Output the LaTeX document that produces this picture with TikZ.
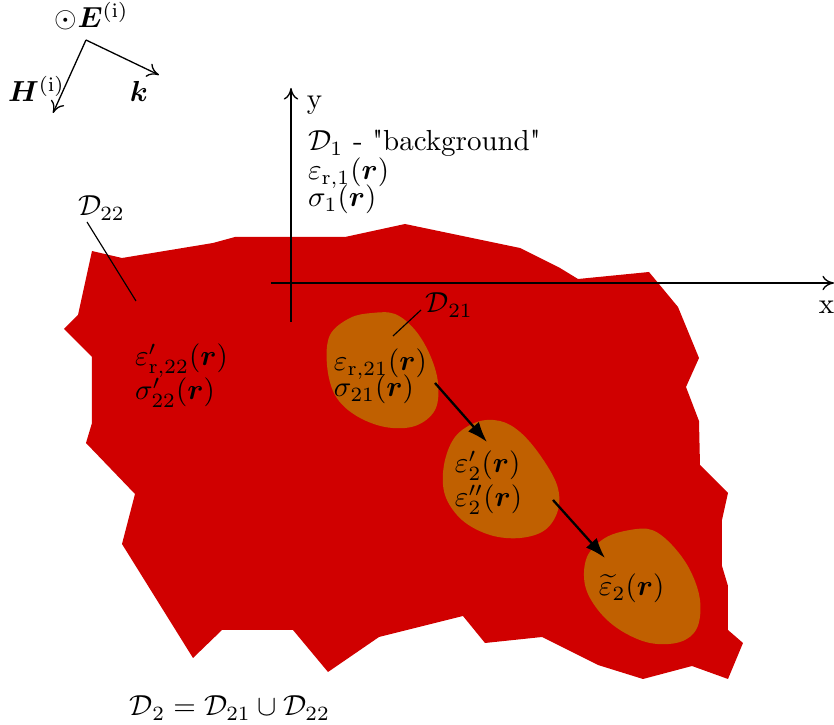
\documentclass[tikz,border=0pt]{standalone}
\usepackage{amsmath,bm}
\usetikzlibrary{arrows.meta}
\definecolor{regred}{RGB}{208,0,0}
\definecolor{incor}{RGB}{192,96,0}
\tikzset{
  lbl/.style={anchor=base west,inner sep=0pt,outer sep=0pt},
  axisline/.style={draw=black,line width=0.45pt,-{To[length=4pt,width=5pt]}},
  leader/.style={draw=black,line width=0.4pt},
  flow/.style={draw=black,line width=0.8pt,-{Latex[length=7pt,width=5pt]}},
  fieldvec/.style={draw=black,line width=0.45pt,-{To[length=4pt,width=5pt]}},
}
\begin{document}
\begin{tikzpicture}[x=0.345pt,y=-0.345pt]
\useasboundingbox (0,0) rectangle (834,725);
% region D2
\fill[regred] (92,251)--(122,258)--(213,243)--(235,237)--(345,237)--(405,224)--(520,248)--(560,268)--(578,279)--(649,272)--(678,307)--(699,358)--(686,387)--(699,421)--(700,465)--(728,493)--(722,520)--(722,566)--(728,586)--(728,630)--(743,643)--(728,679)--(692,666)--(643,679)--(598,665)--(542,637)--(485,643)--(463,616)--(379,637)--(328,672)--(293,630)--(222,630)--(193,658)--(122,544)--(135,494)--(86,443)--(92,423)--(92,357)--(64,329)--(78,315)--cycle;
% inclusions
\fill[incor] plot[smooth cycle,tension=0.6] coordinates {(372,313) (395,314) (415,330) (430,355) (438,383) (435,410) (415,426) (385,427) (355,415) (335,395) (327,365) (330,335) (350,318)};
\fill[incor] plot[smooth cycle,tension=0.6] coordinates {(477,422) (500,421) (520,432) (540,455) (557,485) (558,510) (545,530) (520,538) (490,535) (462,520) (445,495) (444,465) (455,437)};
\fill[incor] plot[smooth cycle,tension=0.6] coordinates {(630,530) (652,530) (672,545) (690,570) (700,600) (697,628) (680,642) (650,643) (620,630) (598,610) (585,585) (587,557) (605,538)};
% axes
\coordinate (yb) at (291,322); \coordinate (yt) at (291,88);
\coordinate (xb) at (271,283); \coordinate (xt) at (834,283);
\draw[axisline] (yb) -- (yt);
\draw[axisline] (xb) -- (xt);
\node[lbl] (ylab) at (307,109) {y};
\node[lbl] (xlab) at (819,314) {x};
% background texts
\node[lbl] (d1) at (308,151) {$\mathcal{D}_1$ - \textquotedbl background\textquotedbl};
\node[lbl] (e1) at (308,180) {$\varepsilon_{\mathrm{r},1}(\bm{r})$};
\node[lbl] (s1) at (308,207) {$\sigma_1(\bm{r})$};
% incident field
\coordinate (o) at (86,40);
\coordinate (ht) at (53,113);
\coordinate (kt) at (159,75);
\draw[fieldvec] (o) -- (ht);
\draw[fieldvec] (o) -- (kt);
\node[lbl] (E) at (55,28) {$\odot\bm{E}^{(\mathrm{i})}$};
\node[lbl] (H) at (8,102) {$\bm{H}^{(\mathrm{i})}$};
\node[lbl] (k) at (130,102) {$\bm{k}$};
% D22
\node[lbl] (d22) at (78,216) {$\mathcal{D}_{22}$};
\coordinate (l22a) at (87,222); \coordinate (l22b) at (136,301);
\draw[leader] (l22a) -- (l22b);
\node[lbl] (e22) at (135,366) {$\varepsilon'_{\mathrm{r},22}(\bm{r})$};
\node[lbl] (s22) at (135,400) {$\sigma'_{22}(\bm{r})$};
% D21
\node[lbl] (d21) at (426,313) {$\mathcal{D}_{21}$};
\coordinate (l21a) at (421,310); \coordinate (l21b) at (393,336);
\draw[leader] (l21a) -- (l21b);
\node[lbl] (e21) at (334,371) {$\varepsilon_{\mathrm{r},21}(\bm{r})$};
\node[lbl] (s21) at (334,397) {$\sigma_{21}(\bm{r})$};
% second state
\node[lbl] (e2a) at (455,473) {$\varepsilon'_2(\bm{r})$};
\node[lbl] (e2b) at (455,507) {$\varepsilon''_2(\bm{r})$};
\node[lbl] (e2t) at (599,596) {$\widetilde{\varepsilon}_2(\bm{r})$};
\coordinate (a1s) at (435,383); \coordinate (a1e) at (487,442);
\coordinate (a2s) at (553,500); \coordinate (a2e) at (605,558);
\draw[flow] (a1s) -- (a1e);
\draw[flow] (a2s) -- (a2e);
% union
\node[lbl] (uni) at (130,716) {$\mathcal{D}_2=\mathcal{D}_{21}\cup\mathcal{D}_{22}$};
\end{tikzpicture}
\end{document}
